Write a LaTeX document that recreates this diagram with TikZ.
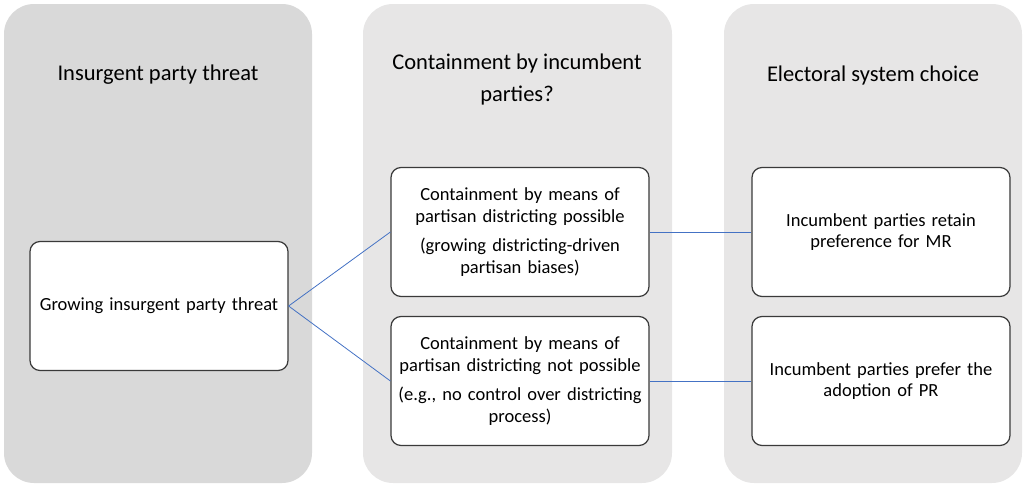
\documentclass[tikz,border=0pt]{standalone}
\usepackage{fontspec}
\setmainfont{Carlito}
\usepackage{tikz}

\definecolor{panelDark}{HTML}{D9D9D9}
\definecolor{panelLight}{HTML}{E7E6E6}
\definecolor{linkBlue}{HTML}{4472C4}
\definecolor{cardEdge}{HTML}{3A3A3A}

\begin{document}
\begin{tikzpicture}[x=1pt, y=-1pt,
    panel/.style={rounded corners=30pt, minimum width=#1, minimum height=479pt, inner sep=0pt},
    heading/.style={align=center, text=black, font=\fontsize{22.5}{32}\selectfont},
    card/.style={draw=cardEdge, line width=1.2pt, fill=white, rounded corners=10pt,
        minimum width=258pt, minimum height=129pt, text width=250pt, align=center,
        text=black, font=\fontsize{18.5}{21.7}\selectfont},
    link/.style={draw=linkBlue, line width=0.8pt}]
    \useasboundingbox (0,0) rectangle (1026,485);
    % Draw the three grey panels
    \node[panel=308pt, fill=panelDark] (colThreat) at (158,243.5) {};
    \node[panel=309pt, fill=panelLight] (colContain) at (517.5,243.5) {};
    \node[panel=298pt, fill=panelLight] (colChoice) at (873,243.5) {};
    % Panel headings
    \node[heading] (hThreat) at (158,75) {Insurgent party threat};
    \node[heading] (hContain) at (517,79) {Containment by incumbent\\parties?};
    \node[heading] (hChoice) at (873,75) {Electoral system choice};
    % Draw the boxes
    \node[card] (threat) at (159,306) {Growing insurgent party threat};
    \node[card] (possible) at (520,232) {Containment by means of\\partisan districting possible\\[8pt](growing districting-driven\\partisan biases)};
    \node[card] (notPossible) at (520,381) {Containment by means of\\partisan districting not possible\\[8pt](e.g., no control over districting\\process)};
    \node[card] (retainMR) at (881,232) {Incumbent parties retain\\preference for MR};
    \node[card] (adoptPR) at (881,381) {Incumbent parties prefer the\\adoption of PR};
    % Connect the boxes
    \draw[link] (threat.east) -- (possible.west);
    \draw[link] (threat.east) -- (notPossible.west);
    \draw[link] (possible.east) -- (retainMR.west);
    \draw[link] (notPossible.east) -- (adoptPR.west);
\end{tikzpicture}
\end{document}
